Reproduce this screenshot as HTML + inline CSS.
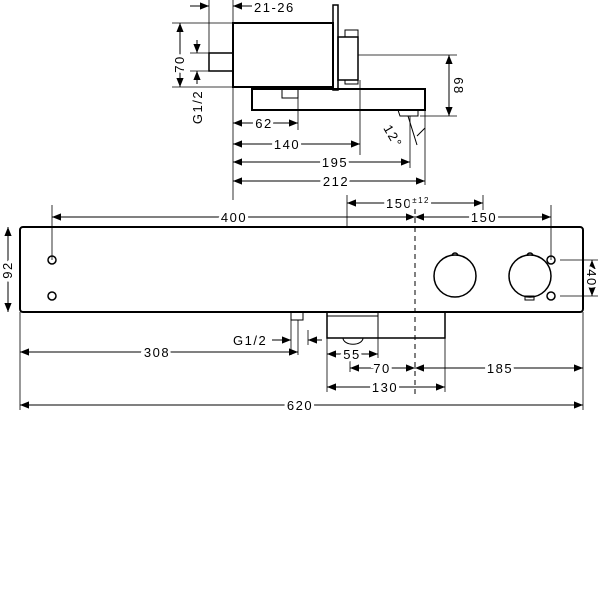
<!DOCTYPE html>
<html><head><style>body{margin:0;background:#fff}svg{display:block}text{font-family:"Liberation Sans",sans-serif;font-size:13px;fill:#000;letter-spacing:1.5px}</style></head>
<body>
<svg width="600" height="600" viewBox="0 0 600 600" xmlns="http://www.w3.org/2000/svg">
<defs>
<marker id="a" viewBox="0 0 10 10" refX="10" refY="5" markerWidth="9" markerHeight="9" orient="auto-start-reverse" markerUnits="userSpaceOnUse"><path d="M0,1 L10,5 L0,9z" fill="#000"/></marker>
</defs>
<g stroke="#000" fill="none" stroke-width="1">
<rect x="233" y="23" width="100" height="64" stroke-width="2"/>
<rect x="209" y="53" width="24" height="18" stroke-width="1.5"/>
<rect x="333" y="5" width="5" height="85" stroke-width="1.5"/>
<rect x="338" y="37" width="20" height="43" stroke-width="1.5"/>
<rect x="345" y="30" width="13" height="7"/>
<rect x="345" y="80" width="13" height="4"/>
<rect x="252" y="89" width="173" height="21" stroke-width="2"/>
<rect x="282" y="89" width="16" height="9"/>
<path d="M398 110 L418 110 L418 116 L400 116z"/>
<path d="M408 116 L417 145 M425 128 L417 136"/>
<path d="M209 0V53 M233 0V200 M172 23H233 M172 87H233 M190 53H209 M190 71H209 M358 55H457 M420 116H457 M298 98V130 M360 80V155 M410 116V168 M425 110V185" stroke-width="0.8"/>
<path d="M190 6H209" marker-end="url(#a)"/>
<path d="M252 6H233" marker-end="url(#a)"/>
<path d="M180 23V87" marker-start="url(#a)" marker-end="url(#a)"/>
<path d="M197 40V53" marker-end="url(#a)"/>
<path d="M197 84V71" marker-end="url(#a)"/>
<path d="M449 55V116" marker-start="url(#a)" marker-end="url(#a)"/>
<path d="M233 123H298" marker-start="url(#a)" marker-end="url(#a)"/>
<path d="M233 144H360" marker-start="url(#a)" marker-end="url(#a)"/>
<path d="M233 162H410" marker-start="url(#a)" marker-end="url(#a)"/>
<path d="M233 181H425" marker-start="url(#a)" marker-end="url(#a)"/>
<rect x="20" y="227" width="563" height="85" rx="3" stroke-width="2"/>
<path d="M415 200V395" stroke-dasharray="5,4"/>
<circle cx="52" cy="260" r="4" stroke-width="1.5"/><circle cx="52" cy="296" r="4" stroke-width="1.5"/>
<circle cx="551" cy="260" r="4" stroke-width="1.5"/><circle cx="551" cy="296" r="4" stroke-width="1.5"/>
<circle cx="455" cy="276" r="21" stroke-width="1.5"/><path d="M452 256 a3 3 0 0 1 6 0" stroke-width="1.5"/>
<circle cx="530" cy="276" r="21" stroke-width="1.5"/><path d="M527 256 a3 3 0 0 1 6 0" stroke-width="1.5"/><rect x="525" y="296" width="9" height="4"/>
<rect x="327" y="312" width="118" height="26" stroke-width="1.5"/>
<path d="M378 312V338 M327 316H378"/>
<path d="M343 338 a8 5 0 0 0 20 0"/>
<rect x="291" y="312" width="12" height="8"/>
<path d="M52 205V260 M551 205V260 M347 195V227 M483 195V215 M560 260H598 M560 296H598 M20 312V410 M583 312V410 M291 320V355 M298 320V355 M308 330V345 M327 338V392 M378 338V358 M445 338V392 M350 355V372" stroke-width="0.8"/>
<path d="M52 217H415" marker-start="url(#a)" marker-end="url(#a)"/>
<path d="M415 217H551" marker-start="url(#a)" marker-end="url(#a)"/>
<path d="M347 203H483" marker-start="url(#a)" marker-end="url(#a)"/>
<path d="M8 227V312" marker-start="url(#a)" marker-end="url(#a)"/>
<path d="M592 260V296" marker-start="url(#a)" marker-end="url(#a)"/>
<path d="M272 340H291" marker-end="url(#a)"/>
<path d="M322 340H308" marker-end="url(#a)"/>
<path d="M20 352H298" marker-start="url(#a)" marker-end="url(#a)"/>
<path d="M327 354H378" marker-start="url(#a)" marker-end="url(#a)"/>
<path d="M350 368H415" marker-start="url(#a)" marker-end="url(#a)"/>
<path d="M415 368H583" marker-start="url(#a)" marker-end="url(#a)"/>
<path d="M327 387H445" marker-start="url(#a)" marker-end="url(#a)"/>
<path d="M20 405H583" marker-start="url(#a)" marker-end="url(#a)"/>
</g>
<g>
<rect x="253" y="0" width="45" height="14" fill="#fff"/><text x="254" y="12">21-26</text>
<text transform="translate(184 64) rotate(-90)" text-anchor="middle" style="paint-order:stroke" stroke="#fff" stroke-width="6">70</text>
<text transform="translate(202 107) rotate(-90)" text-anchor="middle">G1/2</text>
<text transform="translate(454 86) rotate(90)" text-anchor="middle" style="paint-order:stroke" stroke="#fff" stroke-width="6">68</text>
<text transform="translate(383 128) rotate(60)">12°</text>
<g text-anchor="middle" style="paint-order:stroke" stroke="#fff" stroke-width="6">
<text x="264" y="128">62</text>
<text x="287" y="149">140</text>
<text x="335" y="167">195</text>
<text x="336" y="186">212</text>
<text x="234" y="222">400</text>
<text x="408" y="208">150<tspan font-size="8" dy="-5">±12</tspan></text>
<text x="484" y="222">150</text>
<text transform="translate(12 270) rotate(-90)">92</text>
<text transform="translate(587 278) rotate(90)" font-size="12" letter-spacing="0">40</text>
<text x="157" y="357">308</text>
<text x="352" y="359">55</text>
<text x="382" y="373">70</text>
<text x="500" y="373">185</text>
<text x="385" y="392">130</text>
<text x="300" y="410">620</text>
</g>
<text x="233" y="345">G1/2</text>
</g>
</svg>
</body></html>
